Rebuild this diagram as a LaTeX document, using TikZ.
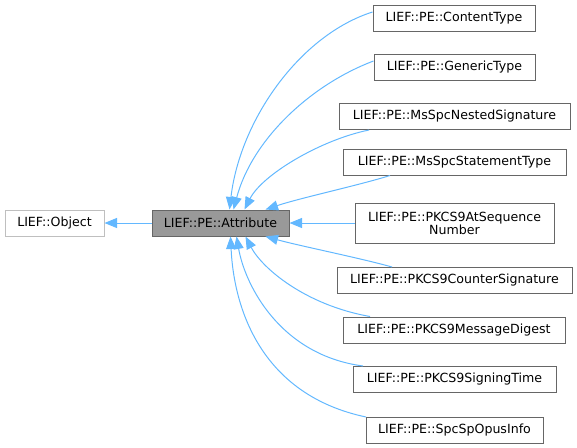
\documentclass[tikz,border=0pt]{standalone}
\usepackage{fontspec}
\setmainfont{DejaVu Sans}
\usetikzlibrary{arrows.meta}
\definecolor{edgeblue}{HTML}{63B8FF}
\definecolor{boxgray}{HTML}{666666}
\definecolor{fillgray}{HTML}{999999}
\definecolor{lightborder}{HTML}{BFBFBF}
\begin{document}
\begin{tikzpicture}[x=1pt,y=-1pt,
  cls/.style={draw=boxgray,line width=1pt,fill=white,rectangle,inner sep=0pt,
    minimum height=26pt,font=\fontsize{12.6}{15}\selectfont,align=center},
  edge/.style={draw=edgeblue,line width=1pt,{Triangle[length=12.5pt,width=10pt,fill=edgeblue]}-}]
\useasboundingbox (0,0) rectangle (577,447);
\node[cls,draw=lightborder,minimum width=99pt] (obj) at (54.5,223) {LIEF::Object};
\node[cls,fill=fillgray,minimum width=137pt] (attr) at (220.5,223) {LIEF::PE::Attribute};
\node[cls,minimum width=162pt] (ct) at (454,18) {LIEF::PE::ContentType};
\node[cls,minimum width=161pt] (gt) at (454.5,67) {LIEF::PE::GenericType};
\node[cls,minimum width=231pt] (nest) at (454.5,116.5) {LIEF::PE::MsSpcNestedSignature};
\node[cls,minimum width=223pt] (stmt) at (454.5,162) {LIEF::PE::MsSpcStatementType};
\node[cls,minimum width=199pt,minimum height=40pt] (atseq) at (454.5,223) {LIEF::PE::PKCS9AtSequence\\[-2pt]Number};
\node[cls,minimum width=235pt] (cs) at (454.5,280.5) {LIEF::PE::PKCS9CounterSignature};
\node[cls,minimum width=222pt] (md) at (454,330) {LIEF::PE::PKCS9MessageDigest};
\node[cls,minimum width=203pt] (st) at (454.5,379.5) {LIEF::PE::PKCS9SigningTime};
\node[cls,minimum width=177pt] (opus) at (454.5,430.5) {LIEF::PE::SpcSpOpusInfo};
% edges (arrow at parent)
\draw[edge] (obj.east) -- (attr.west);
\draw[edge] ([xshift=9pt]attr.north) .. controls (240,120) and (300,35) .. ([yshift=6pt]ct.west);
\draw[edge] ([xshift=13pt]attr.north) .. controls (252,140) and (310,85) .. ([yshift=6pt]gt.west);
\draw[edge] ([xshift=24pt]attr.north) .. controls (262,175) and (320,140) .. ([xshift=-85.5pt]nest.south);
\draw[edge] ([xshift=45pt]attr.north) .. controls (300,198) and (360,185) .. ([xshift=-64.5pt]stmt.south);
\draw[edge] (attr.east) -- (atseq.west);
\draw[edge] ([xshift=45pt]attr.south) .. controls (300,246) and (360,258) .. ([xshift=-62.5pt]cs.north);
\draw[edge] ([xshift=25pt]attr.south) .. controls (262,268) and (305,305) .. ([xshift=-84pt]md.north);
\draw[edge] ([xshift=16pt]attr.south) .. controls (245,285) and (280,355) .. ([xshift=-91.5pt]st.north);
\draw[edge] ([xshift=10pt]attr.south) .. controls (234,310) and (262,395) .. ([xshift=-88.5pt]opus.north);
\end{tikzpicture}
\end{document}
